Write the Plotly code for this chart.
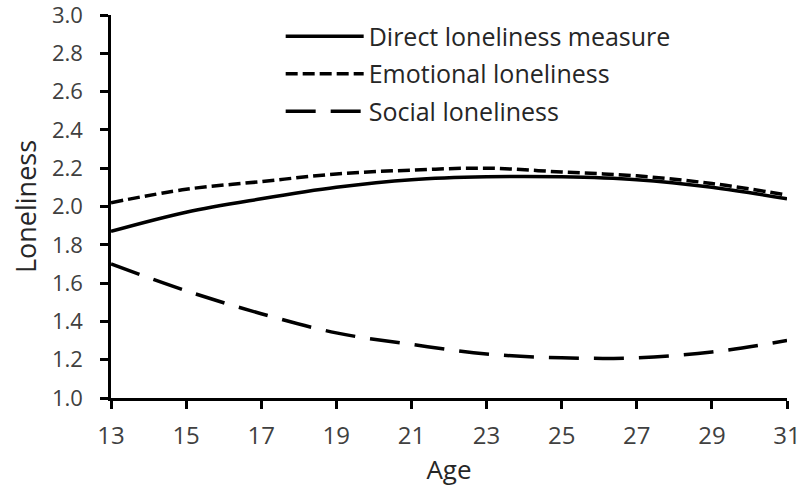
import plotly.graph_objects as go

ages = [13, 15, 17, 19, 21, 23, 25, 27, 29, 31]
direct = [1.87, 1.97, 2.04, 2.10, 2.14, 2.155, 2.155, 2.14, 2.10, 2.04]
emotional = [2.02, 2.09, 2.13, 2.17, 2.19, 2.20, 2.18, 2.16, 2.12, 2.06]
social = [1.70, 1.56, 1.44, 1.34, 1.28, 1.23, 1.21, 1.21, 1.24, 1.30]

x_ticks = list(range(13, 32, 2))
y_ticks = [round(1.0 + 0.2 * i, 1) for i in range(11)]

fig = go.Figure()
fig.add_trace(go.Scatter(x=ages, y=direct, mode="lines", name="Direct loneliness measure",
                         line=dict(color="black", width=3.5, shape="spline"), legendgroup="a"))
fig.add_trace(go.Scatter(x=ages, y=emotional, mode="lines", name="Emotional loneliness",
                         line=dict(color="black", width=3.5, dash="12px,5px", shape="spline"), legendgroup="b"))
fig.add_trace(go.Scatter(x=ages, y=social, mode="lines", name="Social loneliness",
                         line=dict(color="black", width=3.5, dash="30px,15px", shape="spline"), legendgroup="c"))

fig.update_layout(
    width=804, height=501,
    margin=dict(l=111, r=17, t=15, b=103),
    paper_bgcolor="white", plot_bgcolor="white",
    font=dict(family="Open Sans, Liberation Sans, sans-serif", color="#404040", size=24),
    showlegend=True,
    legend=dict(x=0.251, y=1.004, xanchor="left", yanchor="top", bgcolor="rgba(0,0,0,0)",
                font=dict(size=25, color="#262626"), tracegroupgap=2, itemwidth=78),
    xaxis=dict(range=[13, 31], tickvals=x_ticks, ticks="outside", ticklen=8, tickwidth=2.5,
               tickcolor="black", showline=True, linecolor="black", linewidth=2.5,
               showgrid=False, zeroline=False, automargin=False, ticklabelstandoff=6,
               ticklabeloverflow="allow",
               title=dict(text="Age", font=dict(size=26, color="#262626"), standoff=12)),
    yaxis=dict(range=[1.0, 3.0], tickvals=y_ticks, tickformat=".1f", ticks="outside", ticklen=8,
               tickwidth=2.5, tickcolor="black", showline=True, linecolor="black", linewidth=2.5,
               showgrid=False, zeroline=False, automargin=False, ticklabelstandoff=13,
               ticklabeloverflow="allow", tickfont=dict(size=22),
               title=dict(text="Loneliness", font=dict(size=27, color="#262626"), standoff=8)),
)

fig.write_html("out.html", config={"displayModeBar": False},
               post_script="document.body.style.margin='0';")
